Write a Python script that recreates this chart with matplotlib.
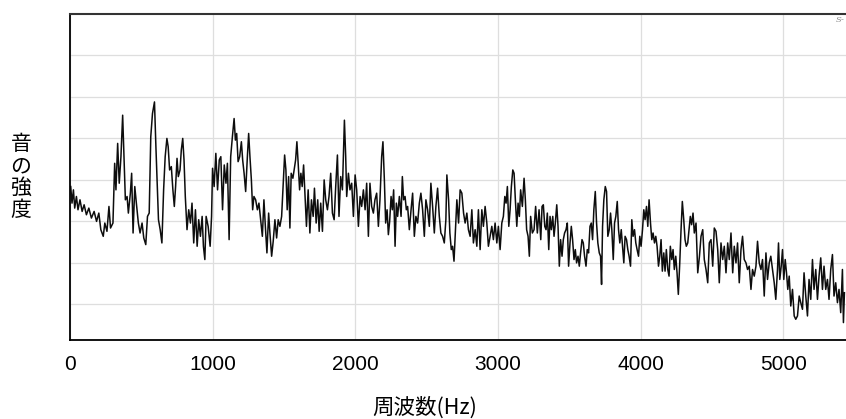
import matplotlib
matplotlib.use("Agg")
import matplotlib.pyplot as plt
import numpy as np

# Spectrum trace, read in bands (frequency in Hz, level in dB relative to the top of the frame)
freq_band1 = [5, 14, 24, 33, 45, 56, 70, 85, 99, 115,
              132, 150, 169, 186, 202, 216, 233, 244, 259, 273,
              284, 301, 313, 322, 334, 345, 357, 369, 378, 388,
              400, 409, 423, 432, 442, 454, 465, 479, 491, 505,
              517, 531, 543, 555, 566, 578, 592, 602, 611, 620,
              632, 644, 656, 667, 679, 688, 698, 710, 721, 731,
              740, 750, 759, 771, 780, 790, 799, 808, 820, 832,
              844, 855, 867, 879, 891, 902, 914, 926, 935, 945,
              954, 968, 982, 992, 999, 1010, 1022, 1034, 1046, 1057,
              1069, 1081, 1093]
level_band1 = [-41.6, -45.6, -42.4, -46.8, -44.0, -47.2, -44.8, -47.6, -46.0, -48.4,
               -46.8, -49.2, -47.6, -50.0, -48.0, -52.0, -53.6, -50.4, -52.4, -46.4,
               -51.6, -50.4, -36.0, -42.4, -31.2, -40.8, -34.4, -24.4, -34.4, -44.8,
               -44.0, -48.0, -43.2, -38.4, -52.8, -41.6, -45.6, -50.4, -52.8, -50.4,
               -54.0, -55.6, -48.8, -48.0, -29.6, -24.0, -21.2, -32.0, -40.8, -49.6,
               -52.0, -55.2, -42.4, -34.4, -30.0, -32.0, -37.6, -36.8, -42.4, -46.4,
               -41.6, -34.8, -39.2, -37.6, -32.8, -30.0, -35.2, -44.0, -52.0, -47.2,
               -50.4, -45.6, -55.2, -47.2, -56.0, -49.6, -53.6, -48.8, -56.0, -59.2,
               -48.8, -51.2, -56.0, -48.8, -37.2, -41.6, -33.6, -42.4, -35.2, -34.4,
               -47.2, -36.4, -40.8]

freq_band2 = [1103, 1115, 1126, 1138, 1150, 1159, 1168, 1178, 1189, 1201,
              1210, 1220, 1231, 1243, 1252, 1261, 1271, 1280, 1289, 1301,
              1313, 1324, 1336, 1348, 1359, 1369, 1380, 1392, 1401, 1413,
              1424, 1436, 1448, 1459, 1471, 1483, 1494, 1504, 1513, 1522,
              1532, 1541, 1550, 1562, 1574, 1581, 1590, 1599, 1609, 1618,
              1627, 1637, 1646, 1657, 1669, 1681, 1692, 1704, 1713, 1725,
              1736, 1746, 1757, 1769, 1781, 1792, 1804, 1815, 1827, 1839,
              1851, 1862, 1874, 1885, 1897, 1909, 1923, 1932, 1939, 1951,
              1962, 1974, 1986, 1998, 2009, 2021, 2033, 2044, 2056, 2068,
              2079, 2091, 2102, 2114, 2126, 2137, 2149, 2161, 2172, 2184,
              2193]
level_band2 = [-36.0, -54.4, -34.4, -29.6, -25.2, -30.4, -28.8, -35.6, -34.4, -30.8,
               -35.2, -38.4, -42.8, -34.4, -28.8, -34.4, -40.0, -47.2, -44.0, -44.8,
               -47.2, -45.6, -49.6, -53.6, -44.8, -51.2, -57.6, -48.0, -52.8, -58.4,
               -54.8, -49.6, -54.0, -49.6, -51.2, -48.8, -40.8, -34.0, -37.6, -47.2,
               -39.2, -51.6, -38.4, -39.6, -36.8, -35.2, -30.8, -36.0, -42.4, -38.4,
               -41.6, -36.4, -43.2, -51.2, -42.4, -52.8, -44.8, -48.8, -42.0, -50.4,
               -44.8, -52.4, -45.6, -52.4, -40.0, -44.8, -47.2, -44.0, -38.4, -48.0,
               -49.6, -41.6, -34.0, -48.8, -39.2, -42.4, -25.6, -34.4, -44.0, -38.4,
               -42.4, -40.8, -48.8, -38.8, -42.4, -51.2, -44.0, -46.4, -42.4, -47.2,
               -40.8, -53.6, -40.8, -46.4, -48.0, -44.8, -43.2, -51.2, -44.8, -34.4,
               -30.8]

freq_band3 = [2203, 2212, 2222, 2231, 2240, 2250, 2259, 2268, 2278, 2287,
              2296, 2308, 2320, 2329, 2338, 2348, 2357, 2366, 2378, 2390,
              2401, 2413, 2424, 2436, 2448, 2459, 2471, 2483, 2494, 2506,
              2518, 2529, 2541, 2553, 2564, 2576, 2588, 2599, 2611, 2623,
              2634, 2641, 2653, 2662, 2672, 2681, 2691, 2699, 2711, 2723,
              2734, 2746, 2758, 2769, 2781, 2792, 2804, 2816, 2827, 2839,
              2851, 2862, 2874, 2886, 2897, 2909, 2921, 2932, 2944, 2956,
              2967, 2979, 2991, 3002, 3014, 3026, 3037, 3047, 3056, 3065,
              3075, 3084, 3093, 3103, 3112, 3121, 3131, 3140, 3149, 3158,
              3170, 3182, 3191, 3200, 3210, 3219, 3228, 3240, 3252, 3263,
              3275, 3287]
level_band3 = [-40.0, -50.4, -47.2, -53.2, -50.0, -44.0, -47.2, -42.4, -56.0, -45.6,
               -48.8, -44.0, -48.8, -39.2, -44.8, -44.0, -47.2, -46.4, -52.0, -47.2,
               -43.2, -53.6, -48.8, -50.4, -45.6, -43.2, -47.2, -53.6, -44.8, -47.2,
               -51.2, -40.8, -46.4, -52.8, -46.4, -42.0, -48.8, -52.8, -53.6, -55.2,
               -49.6, -38.8, -44.8, -52.8, -56.8, -56.0, -59.6, -53.6, -44.8, -50.4,
               -42.4, -43.2, -48.0, -50.4, -48.0, -52.0, -53.6, -47.2, -55.2, -52.0,
               -56.0, -47.2, -56.8, -47.2, -51.2, -46.4, -50.4, -56.0, -53.6, -51.2,
               -54.4, -50.4, -55.2, -51.2, -56.8, -50.4, -48.8, -44.0, -45.6, -41.6,
               -51.2, -47.2, -41.6, -37.6, -38.4, -44.8, -51.2, -45.6, -48.8, -42.4,
               -46.4, -39.6, -44.8, -52.0, -53.6, -58.4, -48.8, -52.8, -52.0, -46.4,
               -52.8, -47.2]

freq_band4 = [3299, 3308, 3317, 3327, 3336, 3345, 3355, 3364, 3373, 3383,
              3392, 3401, 3411, 3420, 3429, 3438, 3448, 3457, 3466, 3476,
              3485, 3494, 3504, 3513, 3522, 3532, 3541, 3550, 3560, 3569,
              3578, 3588, 3597, 3606, 3616, 3625, 3634, 3644, 3653, 3662,
              3671, 3681, 3690, 3699, 3709, 3718, 3725, 3732, 3741, 3751,
              3760, 3769, 3779, 3788, 3797, 3807, 3816, 3825, 3835, 3844,
              3853, 3863, 3872, 3881, 3890, 3900, 3909, 3918, 3928, 3937,
              3946, 3956, 3965, 3974, 3984, 3993, 4002, 4012, 4021, 4030,
              4040, 4049, 4058, 4068, 4077, 4086, 4096, 4105, 4114, 4124,
              4133, 4142, 4151, 4161, 4170, 4179, 4189, 4198, 4207, 4217,
              4226, 4235, 4245, 4254, 4263, 4273, 4282, 4291, 4301, 4310,
              4319, 4329, 4338, 4347, 4356, 4366, 4375]
level_band4 = [-54.4, -46.4, -46.0, -51.2, -52.0, -48.0, -56.8, -48.8, -52.0, -48.8,
               -53.6, -50.4, -46.0, -51.2, -60.8, -54.4, -58.4, -54.4, -52.8, -52.0,
               -50.4, -60.8, -55.2, -51.2, -54.4, -59.2, -56.8, -60.0, -58.4, -60.8,
               -57.6, -54.4, -55.2, -58.4, -60.8, -56.8, -57.6, -51.2, -50.4, -54.4,
               -47.2, -42.8, -50.4, -55.2, -57.6, -58.4, -65.2, -51.2, -44.8, -41.6,
               -42.8, -53.6, -52.0, -48.0, -52.0, -59.2, -50.4, -48.8, -45.2, -52.0,
               -55.2, -52.0, -56.0, -60.0, -53.6, -54.4, -56.8, -58.4, -60.8, -49.6,
               -53.6, -52.0, -55.2, -56.8, -58.4, -53.6, -56.0, -52.0, -47.2, -49.6,
               -46.4, -51.2, -44.8, -50.4, -54.4, -52.8, -55.2, -53.6, -56.0, -60.8,
               -58.4, -54.4, -62.0, -57.6, -62.0, -56.8, -61.6, -63.2, -56.0, -59.2,
               -56.8, -61.6, -58.4, -62.4, -67.6, -60.0, -52.0, -45.2, -49.6, -54.4,
               -56.0, -55.2, -52.0, -48.8, -50.8, -48.0, -52.8]

freq_band5 = [4387, 4399, 4411, 4422, 4434, 4445, 4457, 4469, 4480, 4492,
              4504, 4515, 4527, 4539, 4550, 4562, 4574, 4585, 4597, 4609,
              4620, 4632, 4644, 4655, 4667, 4678, 4690, 4702, 4713, 4725,
              4737, 4748, 4760, 4772, 4783, 4795, 4807, 4818, 4830, 4842,
              4853, 4865, 4877, 4888, 4900, 4911, 4923, 4935, 4946, 4958,
              4965, 4974, 4984, 4993, 5002, 5012, 5021, 5030, 5040, 5051,
              5063, 5075, 5086, 5098, 5110, 5121, 5133, 5144, 5156, 5168,
              5179, 5191, 5203, 5214, 5226, 5238, 5249, 5261, 5273, 5284,
              5296, 5308, 5319, 5331, 5343, 5354, 5366, 5378, 5389, 5401,
              5413, 5420, 5427]
level_band5 = [-50.4, -62.4, -58.4, -53.6, -52.0, -59.2, -61.6, -64.8, -55.2, -54.4,
               -60.8, -51.6, -52.4, -56.8, -64.8, -55.2, -59.2, -56.0, -62.4, -55.2,
               -59.2, -52.8, -62.4, -56.0, -60.0, -55.2, -64.8, -56.8, -53.6, -59.2,
               -60.0, -61.6, -60.8, -66.4, -61.6, -63.2, -60.8, -54.8, -60.0, -61.6,
               -59.2, -68.0, -57.6, -64.0, -60.0, -58.4, -61.6, -64.8, -68.8, -61.6,
               -55.2, -64.0, -60.8, -56.8, -64.0, -59.2, -62.4, -66.4, -63.2, -70.4,
               -66.4, -72.8, -73.6, -72.8, -68.0, -69.6, -71.2, -62.4, -68.0, -72.8,
               -64.0, -68.8, -59.2, -66.4, -61.6, -68.8, -63.2, -58.8, -66.4, -60.8,
               -66.4, -64.0, -68.8, -61.6, -58.0, -68.0, -64.8, -69.6, -66.4, -72.0,
               -61.6, -74.4, -67.2]

x_ticks = [0, 1000, 2000, 3000, 4000, 5000]
y_grid = [-70, -60, -50, -40, -30, -20, -10]

freq = np.concatenate([freq_band1, freq_band2, freq_band3, freq_band4, freq_band5])
level = np.concatenate([level_band1, level_band2, level_band3, level_band4, level_band5])

JP = ["Noto Sans CJK JP", "DejaVu Sans"]

W, H = 846, 419
fig = plt.figure(figsize=(W / 100, H / 100), dpi=100)
ax = fig.add_axes([70 / W, 79 / H, (W - 70) / W, 326 / H])

ax.plot(freq, level, color="#0d0d0d", linewidth=1.1)

ax.set_xlim(0, 5438)
ax.set_ylim(-78.6, 0)
ax.set_xticks(x_ticks)
ax.set_xticklabels([str(t) for t in x_ticks], family="Liberation Sans", fontsize=15)
ax.set_yticks(y_grid)
ax.set_yticklabels([])
ax.tick_params(axis="both", length=0)
ax.tick_params(axis="x", pad=11)
ax.grid(True, color="#dedede", linewidth=0.9)
ax.set_axisbelow(True)

ax.spines["right"].set_visible(False)
ax.spines["top"].set_color("#333333")
ax.spines["top"].set_linewidth(1.5)
for side in ("left", "bottom"):
    ax.spines[side].set_color("black")
    ax.spines[side].set_linewidth(1.3)

fig.text(425 / W, 1 - 408 / H, "周波数(Hz)", family=JP, fontsize=15.5,
         ha="center", va="center")
fig.text(21 / W, 1 - 177 / H, "音\nの\n強\n度", family=JP, fontsize=15,
         ha="center", va="center", linespacing=1.0)
fig.text(845 / W, 1 - 20 / H, "S-", family="DejaVu Serif", style="italic",
         fontsize=6, color="#888888", ha="right", va="center")

fig.savefig("out.png", dpi=100)
